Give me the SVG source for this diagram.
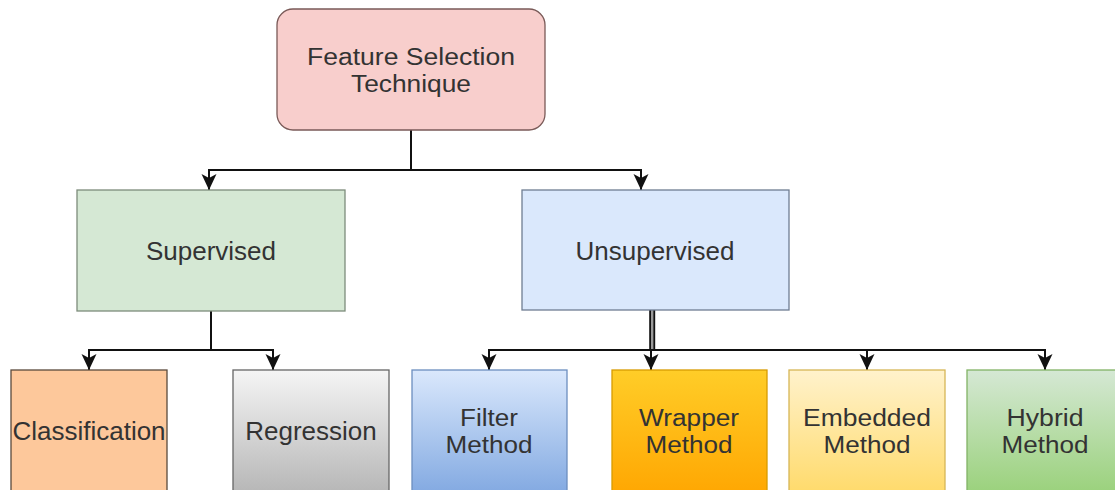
<svg xmlns="http://www.w3.org/2000/svg" width="1115" height="490" viewBox="0 0 1115 490">
  <style>
    .lbl { font-family: "Liberation Sans", Arial, sans-serif; font-size: 26px; fill: #333333; text-anchor: middle; }
    .lbl2 { font-family: "Liberation Sans", Arial, sans-serif; font-size: 23px; fill: #333333; text-anchor: middle; }
    .box { stroke-width: 1.3; }
    .edge { fill: none; stroke: #111111; stroke-width: 2; }
  </style>
  <defs>
    <marker id="arr" viewBox="0 0 18 18" refX="17" refY="9" markerWidth="18" markerHeight="18" markerUnits="userSpaceOnUse" orient="auto">
      <path d="M1,1.5 L17,9 L1,16.5 L5,9 Z" fill="#111111"/>
    </marker>
    <linearGradient id="gGray" x1="0" y1="0" x2="0" y2="1">
      <stop offset="0" stop-color="#f5f5f5"/>
      <stop offset="1" stop-color="#b3b3b3"/>
    </linearGradient>
    <linearGradient id="gBlue" x1="0" y1="0" x2="0" y2="1">
      <stop offset="0" stop-color="#dae8fc"/>
      <stop offset="1" stop-color="#7ea6e0"/>
    </linearGradient>
    <linearGradient id="gOrange" x1="0" y1="0" x2="0" y2="1">
      <stop offset="0" stop-color="#ffcd28"/>
      <stop offset="1" stop-color="#ffa500"/>
    </linearGradient>
    <linearGradient id="gYellow" x1="0" y1="0" x2="0" y2="1">
      <stop offset="0" stop-color="#fff2cc"/>
      <stop offset="1" stop-color="#ffd966"/>
    </linearGradient>
    <linearGradient id="gGreen" x1="0" y1="0" x2="0" y2="1">
      <stop offset="0" stop-color="#d5e8d4"/>
      <stop offset="1" stop-color="#97d077"/>
    </linearGradient>
  </defs>
  <rect width="1115" height="490" fill="#ffffff"/>

  <g id="connectors">
    <path class="edge" d="M411,130 V170 H209 V190" marker-end="url(#arr)"/>
    <path class="edge" d="M411,170 H641 V190" marker-end="url(#arr)"/>
    <path class="edge" d="M211,311 V350 H89 V370" marker-end="url(#arr)"/>
    <path class="edge" d="M211,350 H273 V370" marker-end="url(#arr)"/>
    <path d="M652.2,310 V351" fill="none" stroke="#111111" stroke-width="6"/>
    <path d="M652.2,310 V349" fill="none" stroke="#9a9a9a" stroke-width="2.4"/>
    <path class="edge" d="M652,350 H489 V370" marker-end="url(#arr)"/>
    <path class="edge" d="M652,350 H1045 V370" marker-end="url(#arr)"/>
    <path class="edge" d="M651,350 V370" marker-end="url(#arr)"/>
    <path class="edge" d="M867,350 V370" marker-end="url(#arr)"/>
  </g>

  <g id="root">
    <rect class="box" x="277" y="9" width="268" height="121" rx="16" fill="#f8cecc" stroke="#7a5a58"/>
    <text class="lbl2" x="411" y="65" textLength="208" lengthAdjust="spacingAndGlyphs">Feature Selection</text>
    <text class="lbl2" x="411" y="92" textLength="120" lengthAdjust="spacingAndGlyphs">Technique</text>
  </g>

  <g id="supervised">
    <rect class="box" x="77" y="190" width="268" height="121" fill="#d5e8d4" stroke="#7d8c7b"/>
    <text class="lbl" x="211" y="260">Supervised</text>
  </g>

  <g id="unsupervised">
    <rect class="box" x="522" y="190" width="267" height="120" fill="#dae8fc" stroke="#6f7d92"/>
    <text class="lbl" x="655" y="260">Unsupervised</text>
  </g>

  <g id="classification">
    <rect class="box" x="11" y="370" width="156" height="130" fill="#fdc89b" stroke="#5a4a3c"/>
    <text class="lbl" x="89" y="440">Classification</text>
  </g>

  <g id="regression">
    <rect class="box" x="233" y="370" width="156" height="130" fill="url(#gGray)" stroke="#666666"/>
    <text class="lbl" x="311" y="440">Regression</text>
  </g>

  <g id="filter">
    <rect class="box" x="412" y="370" width="155" height="130" fill="url(#gBlue)" stroke="#6c8ebf"/>
    <text class="lbl2" x="489" y="426" textLength="58" lengthAdjust="spacingAndGlyphs">Filter</text>
    <text class="lbl2" x="489" y="453" textLength="87" lengthAdjust="spacingAndGlyphs">Method</text>
  </g>

  <g id="wrapper">
    <rect class="box" x="612" y="370" width="155" height="130" fill="url(#gOrange)" stroke="#d79b00"/>
    <text class="lbl2" x="689" y="426" textLength="100" lengthAdjust="spacingAndGlyphs">Wrapper</text>
    <text class="lbl2" x="689" y="453" textLength="87" lengthAdjust="spacingAndGlyphs">Method</text>
  </g>

  <g id="embedded">
    <rect class="box" x="789" y="370" width="156" height="130" fill="url(#gYellow)" stroke="#d6b656"/>
    <text class="lbl2" x="867" y="426" textLength="128" lengthAdjust="spacingAndGlyphs">Embedded</text>
    <text class="lbl2" x="867" y="453" textLength="87" lengthAdjust="spacingAndGlyphs">Method</text>
  </g>

  <g id="hybrid">
    <rect class="box" x="967" y="370" width="156" height="130" fill="url(#gGreen)" stroke="#82b366"/>
    <text class="lbl2" x="1045" y="426" textLength="77" lengthAdjust="spacingAndGlyphs">Hybrid</text>
    <text class="lbl2" x="1045" y="453" textLength="87" lengthAdjust="spacingAndGlyphs">Method</text>
  </g>
</svg>
